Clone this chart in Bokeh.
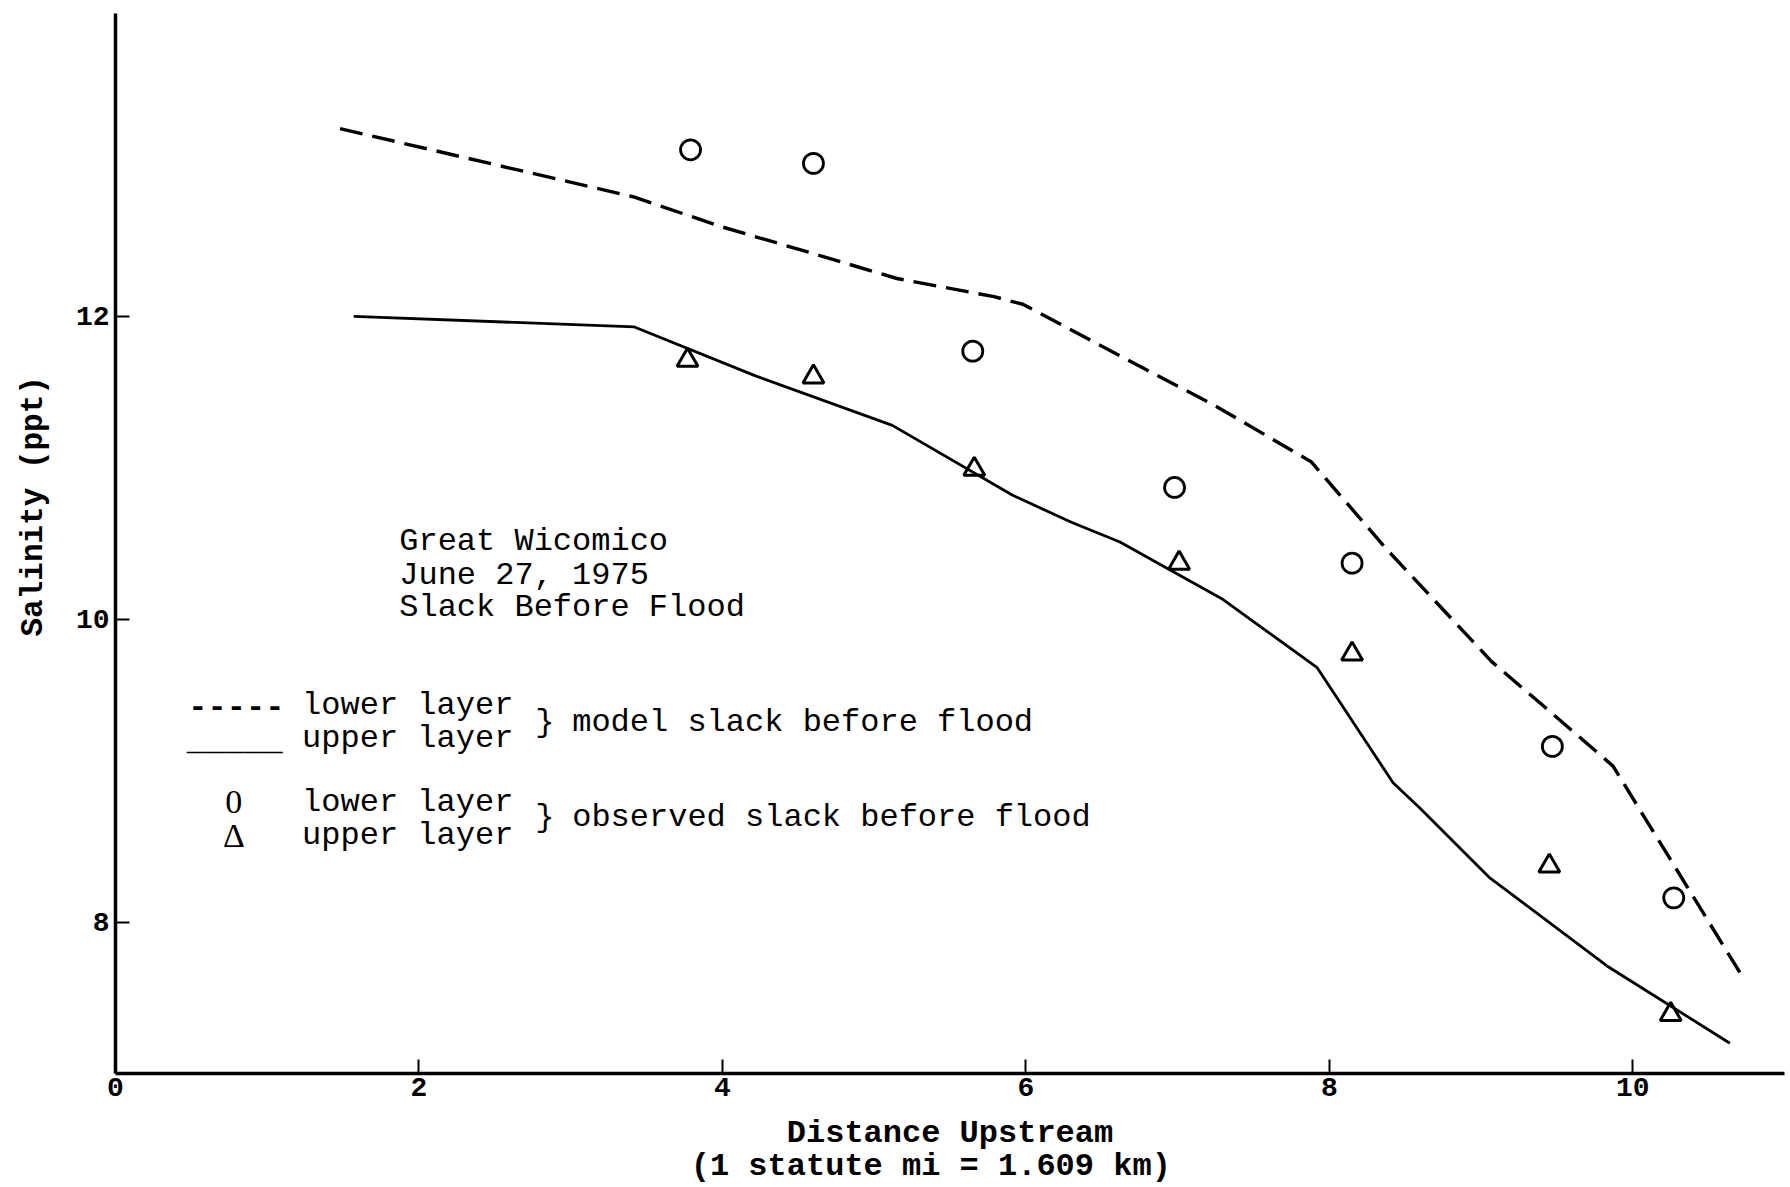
from bokeh.plotting import figure
from bokeh.models import Range1d, FixedTicker, Label
from bokeh.embed import file_html
from bokeh.resources import INLINE

# ---------------- data ----------------
# model, lower layer (dashed)
model_lower_x = [1.48, 3.41, 4.00, 4.58, 5.15, 5.79, 5.98, 6.77, 7.23, 7.88, 8.38, 9.07, 9.42, 9.87, 10.71]
model_lower_y = [13.24, 12.79, 12.59, 12.42, 12.25, 12.13, 12.08, 11.66, 11.42, 11.04, 10.46, 9.72, 9.42, 9.03, 7.66]

# model, upper layer (solid)
model_upper_x = [1.57, 3.42, 4.21, 5.12, 5.91, 6.30, 6.62, 7.30, 7.92, 8.42, 8.60, 9.06, 9.83, 10.64]
model_upper_y = [12.00, 11.93, 11.61, 11.28, 10.82, 10.64, 10.51, 10.13, 9.68, 8.92, 8.75, 8.29, 7.71, 7.20]

# observed, lower layer (circles)
obs_lower_x = [3.79, 4.60, 5.65, 6.98, 8.15, 9.47, 10.27]
obs_lower_y = [13.10, 13.01, 11.77, 10.87, 10.37, 9.16, 8.16]

# observed, upper layer (triangles)
obs_upper_x = [3.77, 4.60, 5.66, 7.01, 8.15, 9.45, 10.25]
obs_upper_y = [11.71, 11.60, 10.99, 10.37, 9.77, 8.37, 7.39]

x_ticks = [0, 2, 4, 6, 8, 10]
y_ticks = [8, 10, 12]

FONT = "Liberation Mono"

p = figure(width=1790, height=1187, output_backend="svg", toolbar_location=None,
           x_range=Range1d(0, 11.0), y_range=Range1d(7, 14),
           min_border_left=115, min_border_right=6, min_border_top=13, min_border_bottom=114)
p.outline_line_color = None
p.grid.visible = False
p.background_fill_color = "white"

p.line(model_lower_x, model_lower_y, line_color="black", line_width=3.4, line_dash="23 10")
p.line(model_upper_x, model_upper_y, line_color="black", line_width=2.8)
p.scatter(obs_lower_x, obs_lower_y, marker="circle", size=20, fill_color=None,
          line_color="black", line_width=2.8)
p.scatter(obs_upper_x, obs_upper_y, marker="triangle", size=21, fill_color=None,
          line_color="black", line_width=3.0)

# axes
for ax in (p.xaxis[0], p.yaxis[0]):
    ax.axis_line_width = 3.5
    ax.axis_line_color = "black"
    ax.major_tick_line_width = 2
    ax.major_tick_line_color = "black"
    ax.major_tick_in = 14
    ax.major_tick_out = 0
    ax.minor_tick_line_color = None
    ax.major_label_text_font = FONT
    ax.major_label_text_font_style = "bold"
    ax.major_label_text_color = "black"
    ax.axis_label_text_font = FONT
    ax.axis_label_text_font_style = "bold"
    ax.axis_label_text_color = "black"

p.xaxis.ticker = FixedTicker(ticks=x_ticks)
p.yaxis.ticker = FixedTicker(ticks=y_ticks)
p.xaxis.major_label_text_font_size = "28px"
p.yaxis.major_label_text_font_size = "28px"
p.xaxis.major_label_standoff = 4
p.yaxis.major_label_standoff = 6
p.xaxis.axis_label = "Distance Upstream\n(1 statute mi = 1.609 km)\u00a0\u00a0"
p.xaxis.axis_label_text_font_size = "32px"
p.xaxis.axis_label_text_line_height = 0.9
p.xaxis.axis_label_standoff = 16
p.yaxis.axis_label = "\u00a0\u00a0\u00a0\u00a0Salinity (ppt)"
p.yaxis.axis_label_text_font_size = "31px"
p.yaxis.axis_label_standoff = 22

# annotation text
def lab(x, y, t, size="32px", align="left", font=FONT, style="normal"):
    p.add_layout(Label(x=x, y=y, text=t, text_font=font, text_font_size=size,
                       text_font_style=style, text_baseline="middle",
                       text_align=align, text_color="black"))

lab(1.87, 10.51, "Great Wicomico")
lab(1.87, 10.29, "June 27, 1975")
lab(1.87, 10.08, "Slack Before Flood")

# legend (typewritten)
lab(0.48, 9.43, "-----", style="bold")
lab(0.47, 9.19, "_____")
lab(1.23, 9.43, "lower layer")
lab(1.23, 9.21, "upper layer")
lab(2.83, 9.32, "}", align="center")
lab(3.01, 9.32, "model slack before flood")
lab(0.78, 8.79, "0", size="34px", align="center", font="Liberation Serif")
lab(0.78, 8.57, "\u0394", size="34px", align="center", font="Liberation Serif")
lab(1.23, 8.79, "lower layer")
lab(1.23, 8.57, "upper layer")
lab(2.83, 8.69, "}", align="center")
lab(3.01, 8.69, "observed slack before flood")

open("out.html", "w").write(file_html(p, INLINE))
